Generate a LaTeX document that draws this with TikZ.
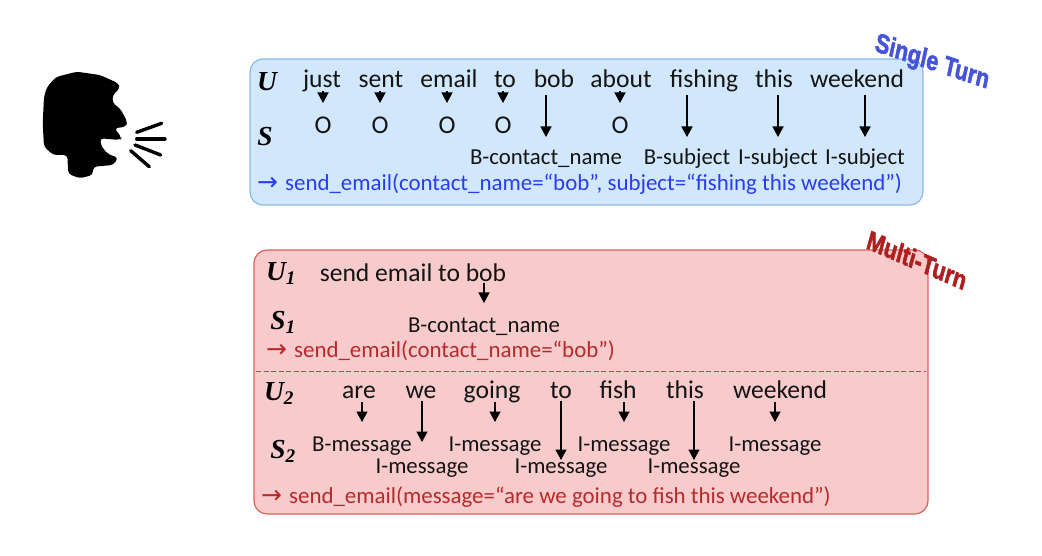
\documentclass[tikz,border=0pt]{standalone}
\usepackage{fontspec}
\setmainfont{Carlito}
\newfontfamily\serifbi{Liberation Serif}
\newfontfamily\turnfont[BoldFeatures={FakeBold=2.2}]{Liberation Sans}
\newfontfamily\arrowfont{DejaVu Sans}
\usepackage{tikz}
\usetikzlibrary{arrows.meta}
\definecolor{singlefill}{HTML}{D1E8FC}
\definecolor{singledraw}{HTML}{8DB9E6}
\definecolor{multifill}{HTML}{F7CBCB}
\definecolor{multidraw}{HTML}{D8615F}
\definecolor{multicut}{HTML}{E5383B}
\definecolor{singletext}{HTML}{2A3CF0}
\definecolor{multitext}{HTML}{B52B2B}
\definecolor{singlebadge}{HTML}{4655D8}
\definecolor{multibadge}{HTML}{AE1F1F}
\definecolor{inktext}{HTML}{141414}
\newcommand{\tagto}{{\arrowfont\fontsize{25}{25}\selectfont→}\hspace{7pt}}
\tikzset{
  >={Triangle[length=10.5pt,width=11pt]},
  panel/.style={line width=1.2pt,rounded corners=13pt},
  wordlbl/.style={font=\fontsize{25.6}{27}\selectfont,text=inktext,inner sep=0pt,anchor=base},
  taglbl/.style={font=\fontsize{22.8}{24}\selectfont,text=inktext,inner sep=0pt,anchor=base},
  funclbl/.style={font=\fontsize{22.9}{24}\selectfont,inner sep=0pt,anchor=base west},
  rowlbl/.style={font=\serifbi\bfseries\itshape\fontsize{27.5}{29}\selectfont,text=black,inner sep=0pt,anchor=base},
  tagarr/.style={->,line width=1.3pt,black},
  badge/.style={font=\turnfont\bfseries\fontsize{27}{29}\selectfont,inner sep=0pt,xscale=0.8},
  puff/.style={line width=3.4pt,line cap=round,black},
}
\begin{document}
\begin{tikzpicture}[x=1pt,y=-1pt]
  \useasboundingbox (0,0) rectangle (1042,556);

  \fill[black,rounded corners=3.5pt] (76.7,71.7) -- (100,75) -- (118.3,83.3) -- (120,88.3)
    -- (112.7,95) -- (112.7,103.3) -- (120,108.3) -- (127.3,121.7) -- (126,126.7)
    -- (114.3,128.3) -- (121.7,137.3) -- (120,140) -- (100,138.3)
    .. controls (102,150) and (108,155) .. (118.3,157.3) -- (113.3,165) -- (93.3,166.7) -- (92.7,175)
    -- (80,178.3) -- (68.3,174) -- (67.3,155) -- (53.3,155) -- (44,146.7)
    -- (42.7,123.3) -- (44,96.7) -- (47,87) -- (56,77) -- cycle;
  \foreach \n/\xa/\ya/\xb/\yb in {1/136.7/132.3/161.7/123.3,2/136.7/139/165/139,
    3/135/145/160.7/155,4/130.7/150.7/149.3/166.7} {
    \coordinate (pa\n) at (\xa,\ya);
    \coordinate (pb\n) at (\xb,\yb);
    \draw[puff] (pa\n) -- (pb\n);
  }

  \draw[panel,draw=singledraw,fill=singlefill] (250,59) rectangle (923,205);
  \draw[panel,draw=multidraw,fill=multifill] (254,250) rectangle (928,514);
  \coordinate (cutl) at (256,371);
  \coordinate (cutr) at (926,371);
  \draw[draw=multicut,dash pattern=on 5pt off 2.5pt,line width=1pt] (cutl) -- (cutr);

  \node[rowlbl] (rowu) at (267,91) {U};
  \node[rowlbl] (rows) at (265,146) {S};
  \node[rowlbl] (rowua) at (281,280) {U\textsubscript{1}};
  \node[rowlbl] (rowsa) at (283,329) {S\textsubscript{1}};
  \node[rowlbl] (rowub) at (279,400) {U\textsubscript{2}};
  \node[rowlbl] (rowsb) at (283,458) {S\textsubscript{2}};

  \foreach \n/\x/\w in {1/322/just,2/381/sent,3/449/email,4/505/to,5/554/bob,
    6/621/about,7/704/fishing,8/774/this,9/857/weekend} {
    \node[wordlbl] (sw\n) at (\x,88) {\w};
  }
  \foreach \n/\x in {1/323,2/380,3/447,4/503,6/620} {
    \node[wordlbl] (st\n) at (\x,134) {O};
    \coordinate (sa\n) at (\x,91);
    \coordinate (sb\n) at (\x,103);
    \draw[tagarr] (sa\n) -- (sb\n);
  }
  \foreach \n/\x/\t in {5/546/B-contact\_name,7/687/B-subject,8/778/I-subject,9/865/I-subject} {
    \node[taglbl] (st\n) at (\x,165) {\t};
    \coordinate (sa\n) at (\x,95);
    \coordinate (sb\n) at (\x,137);
    \draw[tagarr] (sa\n) -- (sb\n);
  }
  \node[funclbl,text=singletext] (sfunc) at (257,191)
    {\tagto send\_email(contact\_name=“bob”, subject=“fishing this weekend”)};

  \node[wordlbl] (mwa) at (413,281) {send email to bob};
  \coordinate (maa) at (484,283);
  \coordinate (mba) at (484,303);
  \draw[tagarr] (maa) -- (mba);
  \node[taglbl] (mta) at (484,332) {B-contact\_name};
  \node[funclbl,text=multitext] (mfunca) at (266,357)
    {\tagto send\_email(contact\_name=“bob”)};

  \foreach \n/\x/\w in {1/359/are,2/421/we,3/492/going,4/561/to,5/618/fish,
    6/685/this,7/780/weekend} {
    \node[wordlbl] (mw\n) at (\x,398) {\w};
  }
  \foreach \n/\x/\t in {1/362/B-message,3/495/I-message,5/624/I-message,7/775/I-message} {
    \node[taglbl] (mt\n) at (\x,451) {\t};
    \coordinate (ma\n) at (\x,402);
    \coordinate (mb\n) at (\x,422);
    \draw[tagarr] (ma\n) -- (mb\n);
  }
  \foreach \n/\x/\e in {2/422/442,4/561/460,6/694/460} {
    \node[taglbl] (mt\n) at (\x,473) {I-message};
    \coordinate (ma\n) at (\x,401);
    \coordinate (mb\n) at (\x,\e);
    \draw[tagarr] (ma\n) -- (mb\n);
  }
  \node[funclbl,text=multitext] (mfuncb) at (261,503)
    {\tagto send\_email(message=“are we going to fish this weekend”)};

  \node[badge,text=singlebadge,rotate=-15] (single) at (932,63) {Single Turn};
  \node[badge,text=multibadge,rotate=-19] (multi) at (917,260) {Multi-Turn};
\end{tikzpicture}
\end{document}
